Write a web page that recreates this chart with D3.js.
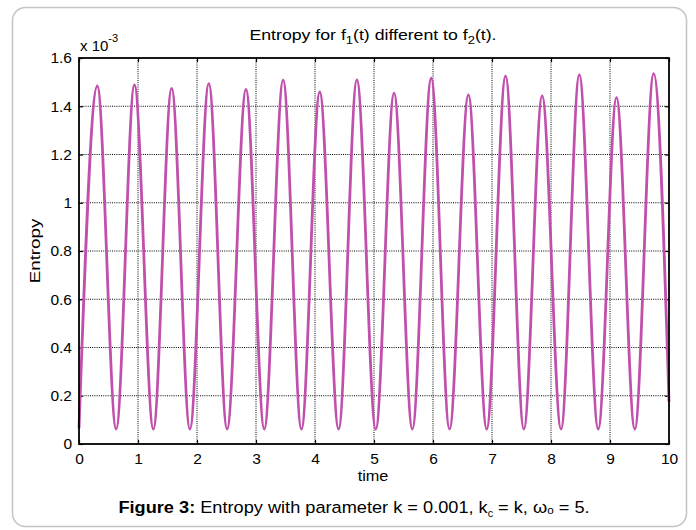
<!DOCTYPE html>
<html><head><meta charset="utf-8">
<script src="https://cdn.jsdelivr.net/npm/d3@7"></script>
<style>html,body{margin:0;padding:0;background:#fff;}svg{display:block;font-family:"Liberation Sans",Arial,sans-serif;}</style>
</head><body>
<svg id="chart" width="696" height="530"></svg>
<script>
// Extrema of the entropy curve (time, entropy x 1e-3)
const time = [0.00,0.31,0.63,0.94,1.26,1.57,1.88,2.20,2.51,2.83,3.14,3.46,3.77,4.08,4.40,4.71,5.03,5.34,5.65,5.97,6.28,6.60,6.91,7.23,7.54,7.85,8.17,8.48,8.80,9.11,9.42,9.74,10.00];
const entropy = [0.065,1.484,0.062,1.488,0.062,1.474,0.062,1.494,0.062,1.470,0.062,1.508,0.062,1.459,0.062,1.509,0.062,1.454,0.062,1.516,0.062,1.447,0.062,1.525,0.062,1.443,0.062,1.530,0.062,1.436,0.062,1.535,0.175];
const xTicks = [0,1,2,3,4,5,6,7,8,9,10];
const yTicks = [0,0.2,0.4,0.6,0.8,1,1.2,1.4,1.6];

const svg = d3.select("#chart");
// outer panel
svg.append("rect").attr("x",12.5).attr("y",7.5).attr("width",674).attr("height",519)
  .attr("rx",13).attr("fill","#fff").attr("stroke","#c4c4c4").attr("stroke-width",1.5);

const L=79,R=669,T=58,B=444;
const x = d3.scaleLinear().domain([0,10]).range([L,R]);
const y = d3.scaleLinear().domain([0,1.6]).range([B,T]);

// grid
const g = svg.append("g");
g.selectAll(".gx").data(xTicks.slice(1,-1)).join("line")
  .attr("x1",d=>x(d)).attr("x2",d=>x(d)).attr("y1",T).attr("y2",B)
  .attr("stroke","#000").attr("stroke-width",1).attr("stroke-dasharray","1,1.2");
g.selectAll(".gy").data(yTicks.slice(1,-1)).join("line")
  .attr("y1",d=>y(d)).attr("y2",d=>y(d)).attr("x1",L).attr("x2",R)
  .attr("stroke","#000").attr("stroke-width",1).attr("stroke-dasharray","1,1.2");

// axes (inward ticks)
const fmt = d => d3.format("~g")(d);
svg.append("g").attr("transform",`translate(0,${B})`)
  .call(d3.axisBottom(x).tickValues(xTicks).tickSizeInner(-4).tickSizeOuter(0).tickPadding(9).tickFormat(fmt))
  .call(a=>{a.select(".domain").remove();a.selectAll("text").attr("font-size",15.5).attr("fill","#000").attr("font-family","Liberation Sans, Arial, sans-serif");});
svg.append("g").attr("transform",`translate(0,${T})`)
  .call(d3.axisTop(x).tickValues(xTicks).tickSizeInner(-4).tickSizeOuter(0).tickFormat(""))
  .call(a=>a.select(".domain").remove());
svg.append("g").attr("transform",`translate(${L},0)`)
  .call(d3.axisLeft(y).tickValues(yTicks).tickSizeInner(-4).tickSizeOuter(0).tickPadding(7).tickFormat(fmt))
  .call(a=>{a.select(".domain").remove();a.selectAll("text").attr("font-size",15.5).attr("fill","#000").attr("font-family","Liberation Sans, Arial, sans-serif");});
svg.append("g").attr("transform",`translate(${R},0)`)
  .call(d3.axisRight(y).tickValues(yTicks).tickSizeInner(-4).tickSizeOuter(0).tickFormat(""))
  .call(a=>a.select(".domain").remove());
svg.selectAll(".tick line").attr("stroke","#000").attr("stroke-width",1.2);

// curve
const pts = time.map((t,i)=>[t,entropy[i]]);
svg.append("path").datum(pts)
  .attr("d",d3.line().x(d=>x(d[0])).y(d=>y(d[1])).curve(d3.curveMonotoneX))
  .attr("fill","none").attr("stroke","#c150ad").attr("stroke-width",2.8).attr("stroke-linejoin","round");

// frame
svg.append("rect").attr("x",L).attr("y",T).attr("width",R-L).attr("height",B-T)
  .attr("fill","none").attr("stroke","#000").attr("stroke-width",1.8);

// exponent label
const ex = svg.append("text").attr("x",80).attr("y",51).attr("font-size",15).attr("fill","#000");
ex.append("tspan").text("x 10");
ex.append("tspan").attr("dy",-9).attr("font-size",11).text("-3");

// title
const tt = svg.append("text").attr("transform","translate(373,40) scale(1.18,1)").attr("text-anchor","middle").attr("font-size",15).attr("fill","#000");
tt.append("tspan").text("Entropy for f");
tt.append("tspan").attr("dy",4).attr("font-size",11).text("1");
tt.append("tspan").attr("dy",-4).text("(t) different to f");
tt.append("tspan").attr("dy",4).attr("font-size",11).text("2");
tt.append("tspan").attr("dy",-4).text("(t).");

// axis labels
svg.append("text").attr("transform","translate(373,481) scale(1.05,1)").attr("text-anchor","middle").attr("font-size",15.5).attr("fill","#000").text("time");
svg.append("text").attr("transform","translate(40,251) rotate(-90) scale(1.25,1)").attr("text-anchor","middle").attr("font-size",15).attr("fill","#000").text("Entropy");

// caption
const cap = svg.append("text").attr("transform","translate(354,513) scale(1.07,1)").attr("text-anchor","middle").attr("font-size",17).attr("fill","#000");
cap.append("tspan").attr("font-weight","bold").text("Figure 3:");
cap.append("tspan").text(" Entropy with parameter k = 0.001, k");
cap.append("tspan").attr("dy",4).attr("font-size",10).text("c");
cap.append("tspan").attr("dy",-4).text(" = k, ω");
cap.append("tspan").attr("dy",1).attr("font-size",11).text("o");
cap.append("tspan").attr("dy",-1).text(" = 5.");
</script>
</body></html>
